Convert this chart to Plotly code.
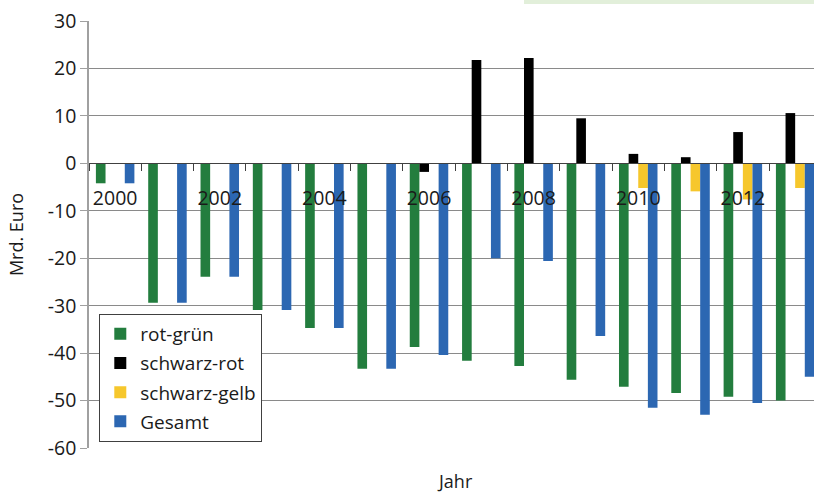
import plotly.graph_objects as go

years = list(range(2000, 2014))
rot_gruen = [-4.2, -29.4, -23.9, -30.9, -34.7, -43.3, -38.7, -41.6, -42.7, -45.6, -47.1, -48.4, -49.2, -50.0]
schwarz_rot = [None, None, None, None, None, None, -1.8, 21.8, 22.2, 9.5, 2.0, 1.3, 6.6, 10.6]
schwarz_gelb = [None, None, None, None, None, None, None, None, None, None, -5.2, -5.9, -7.6, -5.2]
gesamt = [-4.2, -29.4, -23.9, -30.9, -34.7, -43.3, -40.4, -20.0, -20.6, -36.4, -51.5, -53.0, -50.5, -45.0]

tick_years = [2000, 2002, 2004, 2006, 2008, 2010, 2012]
tick_labels = [str(y) for y in tick_years]
y_ticks = [30, 20, 10, 0, -10, -20, -30, -40, -50, -60]
y_labels = ["30", "20", "10", "0", "-10", "-20", "-30", "-40", "-50", "-60"]

series = [
    ("rot-grün", rot_gruen, "#237d3e"),
    ("schwarz-rot", schwarz_rot, "#000000"),
    ("schwarz-gelb", schwarz_gelb, "#f6c72c"),
    ("Gesamt", gesamt, "#2c67b2"),
]

FONT = "Open Sans"
fig = go.Figure()
for name, vals, col in series:
    fig.add_trace(go.Bar(x=years, y=vals, name=name, legendgroup=name,
                         marker=dict(color=col, line=dict(width=0))))

PH = 427.5
fig.update_layout(
    width=814, height=492,
    margin=dict(l=89, r=0, t=21, b=43.5),
    paper_bgcolor="white", plot_bgcolor="white",
    barmode="group", bargap=0.264, bargroupgap=0,
    font=dict(family=FONT, size=19, color="#1a1a1a"),
    showlegend=True,
    legend=dict(x=0.0142, y=0.314, xanchor="left", yanchor="top",
                bgcolor="white", bordercolor="#404040", borderwidth=1,
                itemwidth=30, traceorder="grouped", tracegroupgap=1.5,
                font=dict(family=FONT, size=19, color="#1a1a1a")),
    xaxis=dict(range=[1999.5, 2013.36], showgrid=False, zeroline=False,
               tickmode="array", tickvals=tick_years, ticktext=tick_labels,
               ticks="", anchor="free", position=2/3,
               showline=True, linecolor="#404040", linewidth=1,
               ticklabelstandoff=17,
               minor=dict(ticks="outside", tick0=1999.5, dtick=1, ticklen=7,
                          tickcolor="#404040", tickwidth=1, showgrid=False),
               tickfont=dict(family=FONT, size=19.5, color="#1a1a1a")),
    yaxis=dict(range=[-60, 30.01], tickmode="array", tickvals=y_ticks, ticktext=y_labels,
               showgrid=True, gridcolor="#8a8a8a", gridwidth=1,
               zeroline=False, showline=True, linecolor="#a0a0a0", linewidth=1.5,
               ticks="outside", ticklen=7, tickcolor="#a0a0a0",
               title=dict(text="Mrd. Euro", standoff=19, font=dict(family=FONT, size=18, color="#1a1a1a")),
               tickfont=dict(family=FONT, size=19.5, color="#1a1a1a")),
)

fig.add_annotation(text="Jahr", xref="paper", yref="paper", x=0.505, y=(448.5 - 482) / PH,
                   xanchor="center", yanchor="middle", showarrow=False,
                   font=dict(family=FONT, size=18, color="#1a1a1a"))

fig.add_shape(type="rect", xref="paper", yref="paper",
              x0=(524 - 89) / 725, x1=1.0, y0=1 + 17 / PH, y1=1 + 21 / PH,
              fillcolor="#e2efda", line=dict(width=0), layer="above")

fig.write_html(
    "out.html",
    config={"displayModeBar": False},
    post_script="document.body.style.margin='0';document.body.style.overflow='hidden';",
)
